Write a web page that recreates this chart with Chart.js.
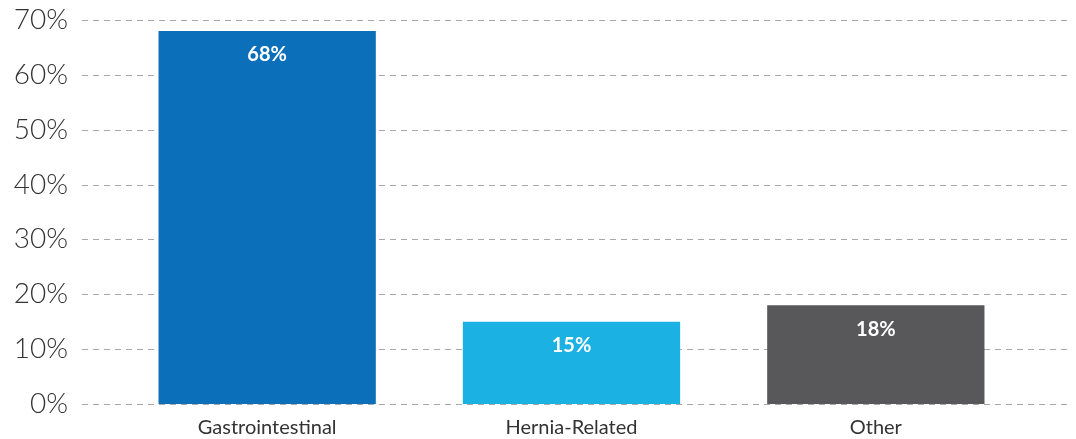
<!DOCTYPE html>
<html>
<head>
<meta charset="utf-8">
<script src="https://cdn.jsdelivr.net/npm/chart.js@4"></script>
<style>
  html, body { margin: 0; padding: 0; background: #fff; overflow: hidden; }
  canvas { display: block; }
</style>
</head>
<body>
<canvas id="chart" width="1076" height="439"></canvas>
<script>
const categories = ['Gastrointestinal', 'Hernia-Related', 'Other'];
const shares = [68, 15, 18];
const barColors = ['#0b70b9', '#1bb1e3', '#58585a'];
const yTicks = [0, 10, 20, 30, 40, 50, 60, 70];

const FONT = 'Lato, "Open Sans", sans-serif';

// dashed grid that runs past the plot area on both sides
const wideGrid = {
    id: 'wideGrid',
    beforeDatasetsDraw(chart) {
        const y = chart.scales.y;
        const ctx = chart.ctx;
        ctx.save();
        ctx.strokeStyle = '#a8a8a8';
        ctx.lineWidth = 1;
        ctx.setLineDash([6, 5]);
        y.ticks.forEach(t => {
            const py = Math.round(y.getPixelForValue(t.value)) + 0.5;
            ctx.beginPath();
            ctx.moveTo(82, py);
            ctx.lineTo(1068, py);
            ctx.stroke();
        });
        ctx.restore();
    }
};

// value labels inside the top of each bar
const barLabels = {
    id: 'barLabels',
    afterDatasetsDraw(chart) {
        const ctx = chart.ctx;
        const meta = chart.getDatasetMeta(0);
        ctx.save();
        ctx.fillStyle = '#ffffff';
        ctx.font = 'bold 20px ' + FONT;
        ctx.textAlign = 'center';
        ctx.textBaseline = 'middle';
        meta.data.forEach((bar, i) => {
            ctx.fillText(shares[i] + '%', bar.x, bar.y + 24);
        });
        ctx.restore();
    }
};

new Chart(document.getElementById('chart'), {
    type: 'bar',
    data: {
        labels: categories,
        datasets: [{
            data: shares,
            backgroundColor: barColors,
            borderWidth: 0,
            barPercentage: 0.714,
            categoryPercentage: 1
        }]
    },
    options: {
        responsive: false,
        animation: false,
        layout: { padding: { left: 0, right: 48, top: 20, bottom: 0 } },
        plugins: { legend: { display: false }, tooltip: { enabled: false } },
        scales: {
            x: {
                afterFit(scale) { scale.height = 35; },
                grid: { display: false, drawTicks: false },
                border: { display: false },
                ticks: { color: '#333', font: { family: FONT, size: 20 }, padding: 12, maxRotation: 0 }
            },
            y: {
                min: 0,
                max: 70,
                afterFit(scale) {
                    scale.width = 115;
                    scale.paddingTop = 0;
                    scale.paddingBottom = 0;
                },
                afterBuildTicks(scale) { scale.ticks = yTicks.map(v => ({ value: v })); },
                grid: { display: false, drawTicks: false },
                border: { display: false },
                ticks: {
                    color: '#333',
                    font: { family: FONT, size: 28, weight: 300 },
                    padding: 47,
                    callback: v => v + '%'
                }
            }
        }
    },
    plugins: [wideGrid, barLabels]
});
</script>
</body>
</html>
